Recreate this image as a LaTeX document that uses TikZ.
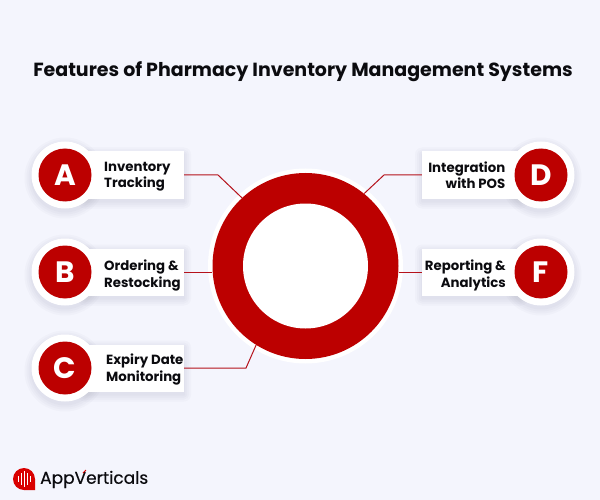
\documentclass[tikz,border=0pt]{standalone}
\usepackage{fontspec}
\setmainfont{Poppins}
\newfontfamily\brandfont[FakeBold=0.35]{Poppins}
\usetikzlibrary{calc}
\definecolor{pagebg}{HTML}{F4F5FD}
\definecolor{brandred}{HTML}{BC0000}
\definecolor{linkred}{HTML}{B5121B}
\definecolor{inkblack}{HTML}{0B0B0F}
\definecolor{shadowgrey}{HTML}{50506E}
\tikzset{
  x=1pt, y=-1pt,
  cardbox/.style={fill=white, minimum width=99pt, minimum height=47pt, inner sep=0pt, anchor=center},
  badgeouter/.style={circle, fill=white, minimum size=67pt, inner sep=0pt},
  badgeinner/.style={circle, fill=brandred, minimum size=53pt, inner sep=0pt, text=white,
    font=\fontsize{29.5}{30}\selectfont\bfseries},
  cardleft/.style={align=left, anchor=west, inner sep=0pt, text=inkblack,
    font=\fontsize{13.3}{16.4}\selectfont\bfseries},
  cardright/.style={align=right, anchor=east, inner sep=0pt, text=inkblack,
    font=\fontsize{13.3}{16.4}\selectfont\bfseries},
  linkline/.style={draw=linkred, line width=1pt, line join=miter},
}
% soft drop shadow behind a card and its badge
\newcommand{\softshadow}[4]{%
  \foreach \g in {7,5,3,1}{%
    \fill[shadowgrey, opacity=0.028, rounded corners=\g pt]
      (#1-\g,#2-23.5+3-\g) rectangle (#1+99+\g,#2+23.5+3+\g);
    \fill[shadowgrey, opacity=0.028]
      (#3,#4+3) circle[radius=33.5+\g];
  }%
}
\begin{document}
\begin{tikzpicture}
\useasboundingbox (0,0) rectangle (600,500);
\fill[pagebg] (0,0) rectangle (600,500);

% title
\node[anchor=center, inner sep=0pt, text=inkblack, font=\fontsize{19}{22}\selectfont\bfseries] (title)
  at (303,71.5) {Features of Pharmacy Inventory Management Systems};

% shadows under the cards
\softshadow{85}{175}{65}{175}
\softshadow{85}{272}{65}{272}
\softshadow{85}{368}{65}{368}
\softshadow{422}{175}{541}{175}
\softshadow{422}{272}{541}{272}

% central ring
\node[circle, fill=white, minimum size=195pt, inner sep=0pt] (ringhalo) at (305.5,266) {};
\node[circle, fill=brandred, minimum size=186pt, inner sep=0pt] (ring) at (305.5,266) {};
\node[circle, fill=white, minimum size=125pt, inner sep=0pt] (hole) at (305.5,266) {};

% cards
\node[cardbox] (cardA) at (134.5,175) {};
\node[cardbox] (cardB) at (134.5,272) {};
\node[cardbox] (cardC) at (134.5,368) {};
\node[cardbox] (cardD) at (471.5,175) {};
\node[cardbox] (cardF) at (471.5,272.5) {};

% badges
\node[badgeouter] (outerA) at (65,175) {};
\node[badgeouter] (outerB) at (65,272) {};
\node[badgeouter] (outerC) at (65,368) {};
\node[badgeouter] (outerD) at (541,175) {};
\node[badgeouter] (outerF) at (541,272) {};
\node[badgeinner] (badgeA) at (65,175) {A};
\node[badgeinner] (badgeB) at (65,272) {B};
\node[badgeinner] (badgeC) at (65,368) {C};
\node[badgeinner] (badgeD) at (541,175) {D};
\node[badgeinner] (badgeF) at (541,272) {F};

% card labels
\node[cardleft] (labelA) at (104,176.5) {Inventory\\Tracking};
\node[cardleft] (labelB) at (104,275.5) {Ordering \&\\Restocking};
\node[cardleft] (labelC) at (106,369.5) {Expiry Date\\Monitoring};
\node[cardright] (labelD) at (505.5,175.5) {Integration\\with POS};
\node[cardright] (labelF) at (506,275.5) {Reporting \&\\Analytics};

% connectors from the cards to the ring
\coordinate (bendA) at (218,175);
\coordinate (bendC) at (246,368);
\coordinate (bendD) at (384,175);
\draw[linkline] (cardA.east) -- (bendA) -- (ring.133);
\draw[linkline] (cardB.east) -- (ring.west |- cardB.east);
\draw[linkline] (cardC.east) -- (bendC) -- (ring.238);
\draw[linkline] (cardD.west) -- (bendD) -- (ring.51);
\draw[linkline] (cardF.west) -- (ring.east |- cardF.west);

% company mark: pin with sound bars
\node[circle, fill=red!85!black, minimum size=22pt, inner sep=0pt] (pin) at (24,479) {};
\coordinate (pintip) at (35,490);
\fill[red!85!black] (pin.center) -- (pin.east) -- (pintip) -- (pin.south) -- cycle;
\foreach \bx/\bh in {-6/3,-3/6,0/8,3/6,6/3}
  \draw[white, line width=1pt] (24+\bx,479-\bh) -- (24+\bx,479+\bh);
\node[anchor=west, inner sep=0pt, text=inkblack, font=\fontsize{17}{20}\brandfont] (brand) at (40,479.5) {AppVerticals};
\coordinate (tickstart) at (83,473);
\coordinate (tickend) at (86,470);
\draw[red!85!black, line width=1pt] (tickstart) -- (tickend);
\end{tikzpicture}
\end{document}
